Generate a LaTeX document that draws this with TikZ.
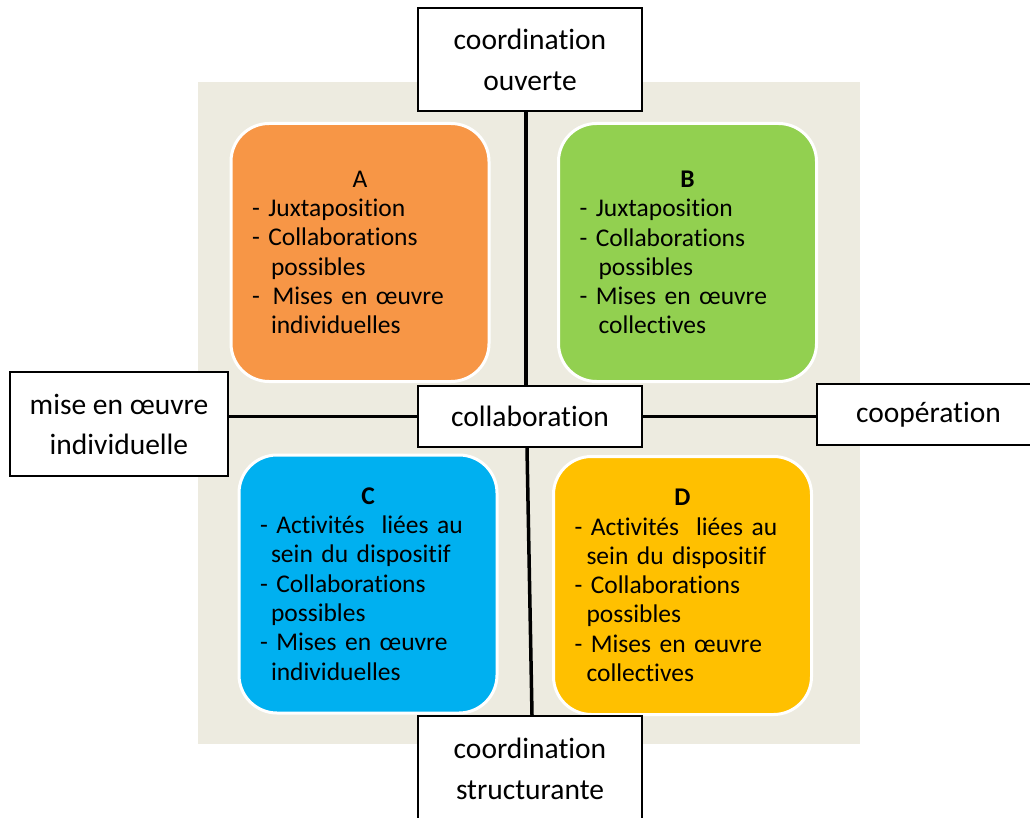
\documentclass[tikz,border=0pt]{standalone}
\usepackage{fontspec}
\setmainfont{Carlito}[Ligatures=NoCommon]
\usepackage{xcolor}
\usetikzlibrary{positioning}
\definecolor{fondgris}{RGB}{237,235,224}
\definecolor{orangeA}{RGB}{247,150,70}
\definecolor{vertB}{RGB}{146,208,80}
\definecolor{bleuC}{RGB}{0,176,240}
\definecolor{jauneD}{RGB}{255,192,0}
\newcommand{\retrait}[1]{\hspace*{#1}}
\newcommand{\titre}[1]{\makebox[216pt]{#1}}

\begin{document}
\begin{tikzpicture}[x=1pt, y=-1pt,
  quad/.style = {draw=white, line width=3pt, rounded corners=38pt, minimum width=258pt, minimum height=258pt, text width=216pt, inner xsep=21pt, align=left, font=\fontsize{25.5}{29.3}\selectfont},
  lab/.style = {draw, line width=2pt, fill=white, align=center, minimum width=224pt, font=\fontsize{29.5}{41}\selectfont},
  axe/.style = {line width=3.5pt}]
\clip (0,0) rectangle (1030,818);
\fill[fondgris] (198,82) rectangle (860,744);
% quadrants
\node[quad, fill=orangeA] (qa) at (360,252.5) {\titre{A}\\- Juxtaposition\\- Collaborations\\\retrait{19pt}possibles\\-\, Mises en œuvre\\\retrait{19pt}individuelles};
\node[quad, fill=vertB] (qb) at (687.5,252.5) {\titre{\textbf{B}}\\- Juxtaposition\\- Collaborations\\\retrait{19pt}possibles\\- Mises en œuvre\\\retrait{19pt}collectives};
\node[quad, fill=bleuC] (qc) at (368,584) {\titre{\textbf{C}}\\- Activités~ liées au\\\retrait{11pt}sein du dispositif\\- Collaborations\\\retrait{11pt}possibles\\- Mises en œuvre\\\retrait{11pt}individuelles};
\node[quad, fill=jauneD] (qd) at (682.5,585.5) {\titre{\textbf{D}}\\- Activités~ liées au\\\retrait{12pt}sein du dispositif\\- Collaborations\\\retrait{12pt}possibles\\- Mises en œuvre\\\retrait{12pt}collectives};
% axes
\node[lab, minimum height=103pt] (haut) at (530,59.5) {coordination\\ouverte};
\node[lab, minimum height=61pt] (centre) at (530,416.5) {collaboration};
\node[lab, minimum width=218pt, minimum height=104pt, font=\fontsize{29.5}{40}\selectfont] (gauche) at (119,424) {mise en œuvre\\individuelle};
\node[lab, minimum width=223pt, minimum height=61pt] (droite) at (928.5,414.5) {coopération};
\node[lab, minimum height=106pt] (bas) at (530,769) {coordination\\structurante};
\draw[axe] ([xshift=-4pt]haut.south) -- ([xshift=-4pt]centre.north);
\draw[axe] ([xshift=-3pt]centre.south) -- ([xshift=2pt]bas.north);
\draw[axe] (gauche.east |- centre.west) -- (centre.west);
\draw[axe] (centre.east) -- (droite.west |- centre.east);
\end{tikzpicture}
\end{document}
